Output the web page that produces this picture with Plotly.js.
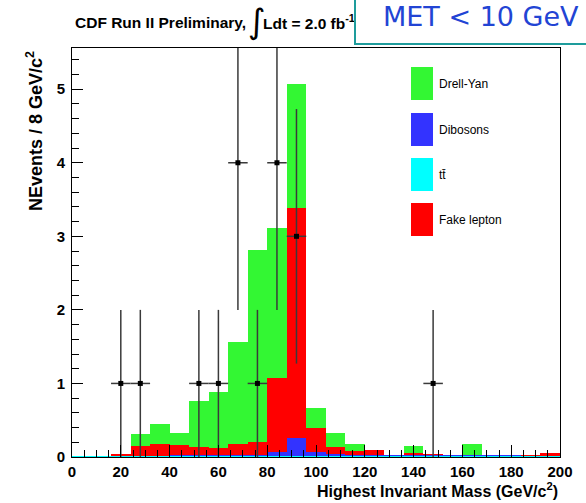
<!DOCTYPE html>
<html>
<head>
<meta charset="utf-8">
<script src="https://cdn.plot.ly/plotly-3.0.1.min.js"></script>
<style>
  html, body { margin: 0; padding: 0; background: #ffffff; }
  #chart { width: 586px; height: 503px; }
</style>
</head>
<body>
<div id="chart"></div>
<script>
// Highest invariant mass, 8 GeV/c^2 bins from 0 to 200
const binCenters = [4, 12, 20, 28, 36, 44, 52, 60, 68, 76, 84, 92, 100,
                    108, 116, 124, 132, 140, 148, 156, 164, 172, 180, 188, 196];
const binWidth = 8;

// Expected events per bin, stacked from the bottom up
const ttbar    = [0.01, 0.01, 0.01, 0.01, 0.01, 0.01, 0.012, 0.012, 0.012, 0.012, 0.012, 0.015, 0.012,
                  0.012, 0.01, 0.01, 0.01, 0.01, 0.01, 0.01, 0.01, 0.01, 0.01, 0.008, 0.008];
const dibosons = [0, 0, 0, 0.003, 0.005, 0.015, 0.013, 0.013, 0.013, 0.013, 0.058, 0.245, 0.056,
                  0.033, 0.02, 0.015, 0.015, 0.015, 0.015, 0.012, 0.015, 0.012, 0.012, 0.012, 0.012];
const fakeLepton = [0, 0, 0.035, 0.137, 0.155, 0.135, 0.105, 0.095, 0.145, 0.185, 1.005, 3.12, 0.327,
                    0.091, 0.05, 0.065, 0.005, 0.03, 0.02, 0.005, 0.005, 0.005, 0.005, 0.005, 0.03];
const drellYan = [0, 0, 0, 0.16, 0.285, 0.16, 0.63, 0.765, 1.395, 2.60, 2.035, 1.695, 0.275,
                  0.184, 0.10, 0, 0, 0.09, 0, 0, 0.15, 0, 0, 0, 0];

// Observed events (bin centre, count, Poisson error)
const dataMass   = [20, 28, 52, 60, 68, 76, 84, 92, 148];
const dataCounts = [1, 1, 1, 1, 4, 1, 4, 3, 1];
const dataErrors = [1, 1, 1, 1, 2, 1, 2, 1.73, 1];

const xTicks = [0, 20, 40, 60, 80, 100, 120, 140, 160, 180, 200];
const yTicks = [0, 1, 2, 3, 4, 5];

const legendLabels = ['Drell-Yan', 'Dibosons', 't\u0074\u0304', 'Fake lepton'];
const legendColors = ['#33f733', '#3333ff', '#00ffff', '#ff0000'];

const W = 586, H = 503;
const L = 72, R = 560, T = 48, B = 457;
const px = v => (v - L) / (R - L);
const py = v => (B - v) / (B - T);

const sans = 'Liberation Sans, Arial, Helvetica, sans-serif';

function stackTrace(name, values, color) {
  return {
    type: 'bar', name: name, x: binCenters, y: values, width: binWidth,
    marker: { color: color, line: { width: 0 } },
    hoverinfo: 'skip', showlegend: false
  };
}

const traces = [
  stackTrace('tt\u0304', ttbar, legendColors[2]),
  stackTrace('Dibosons', dibosons, legendColors[1]),
  stackTrace('Fake lepton', fakeLepton, legendColors[3]),
  stackTrace('Drell-Yan', drellYan, legendColors[0]),
  {
    type: 'scatter', mode: 'markers', name: 'Data',
    x: dataMass, y: dataCounts,
    marker: { symbol: 'square', size: 5, color: '#000000' },
    error_y: { type: 'data', array: dataErrors, visible: true, color: '#3a3a3a', thickness: 1.5, width: 0 },
    error_x: { type: 'constant', value: binWidth / 2, visible: true, color: '#3a3a3a', thickness: 1.5, width: 0 },
    cliponaxis: true, showlegend: false, hoverinfo: 'skip'
  }
];

const shapes = [];
const annotations = [];

// Legend boxes and labels
const legendTop = [67, 113, 158, 203];
legendLabels.forEach((lab, i) => {
  shapes.push({
    type: 'rect', xref: 'paper', yref: 'paper',
    x0: px(411), x1: px(433), y0: py(legendTop[i]), y1: py(legendTop[i] + 33),
    fillcolor: legendColors[i], line: { width: 0 }, layer: 'above'
  });
  annotations.push({
    xref: 'paper', yref: 'paper', x: px(437), y: py(legendTop[i] + 17),
    xanchor: 'left', yanchor: 'middle', showarrow: false, text: lab,
    font: { family: sans, size: 12, color: '#000000' }
  });
});

// Header
annotations.push({
  xref: 'paper', yref: 'paper', x: px(73), y: py(22), xanchor: 'left', yanchor: 'middle',
  showarrow: false, text: '<b>CDF Run II Preliminary,</b>',
  font: { family: sans, size: 15.5, color: '#000000' }
});
annotations.push({
  xref: 'paper', yref: 'paper', x: px(246), y: py(21), xanchor: 'left', yanchor: 'middle',
  showarrow: false, text: '\u222B',
  font: { family: 'DejaVu Sans, sans-serif', size: 34, color: '#000000' }
});
annotations.push({
  xref: 'paper', yref: 'paper', x: px(261), y: py(22), xanchor: 'left', yanchor: 'middle',
  showarrow: false, text: '<b>Ldt = 2.0 fb<sup>-1</sup></b>',
  font: { family: sans, size: 15.5, color: '#000000' }
});

// Selection label box
annotations.push({
  xref: 'paper', yref: 'paper', x: px(354), y: py(45), xanchor: 'left', yanchor: 'bottom',
  showarrow: false, text: ' ', width: 300, height: 70,
  bgcolor: '#ffffff', bordercolor: '#1e9c9c', borderwidth: 2, borderpad: 0
});
annotations.push({
  xref: 'paper', yref: 'paper', x: px(381), y: py(17), xanchor: 'left', yanchor: 'middle',
  showarrow: false, text: 'MET &lt; 10 GeV',
  font: { family: 'DejaVu Sans, sans-serif', size: 27, color: '#2244d4' }
});

// Axis titles
annotations.push({
  xref: 'paper', yref: 'paper', x: px(560), y: py(490), xanchor: 'right', yanchor: 'middle',
  showarrow: false, text: '<b>Highest Invariant Mass (GeV/c<sup>2</sup>)</b>',
  font: { family: sans, size: 16, color: '#000000' }
});
annotations.push({
  xref: 'paper', yref: 'paper', x: px(35), y: py(49), xanchor: 'center', yanchor: 'top',
  showarrow: false, textangle: -90, text: '<b>NEvents / 8 GeV/c<sup>2</sup></b>',
  font: { family: sans, size: 18, color: '#000000' }
});

const layout = {
  width: W, height: H,
  margin: { l: L, r: W - R, t: T, b: H - B, pad: 0 },
  paper_bgcolor: '#ffffff', plot_bgcolor: '#ffffff',
  barmode: 'stack', bargap: 0,
  showlegend: false,
  xaxis: {
    range: [0, 200], tickvals: xTicks, ticktext: xTicks.map(String),
    ticks: 'inside', ticklen: 12, tickwidth: 1, tickcolor: '#000000',
    minor: { dtick: 5, tick0: 0, ticks: 'inside', ticklen: 7, tickwidth: 1, tickcolor: '#000000', showgrid: false },
    showline: true, linecolor: '#000000', linewidth: 1, mirror: true,
    showgrid: false, zeroline: false,
    tickfont: { family: sans, size: 15, color: '#000000', weight: 'bold' },
    ticklabelstandoff: 1
  },
  yaxis: {
    range: [0, 5.56], tickvals: yTicks, ticktext: yTicks.map(String),
    ticks: 'inside', ticklen: 11, tickwidth: 1, tickcolor: '#000000',
    minor: { dtick: 0.2, tick0: 0, ticks: 'inside', ticklen: 7, tickwidth: 1, tickcolor: '#000000', showgrid: false },
    showline: true, linecolor: '#000000', linewidth: 1, mirror: true,
    showgrid: false, zeroline: false,
    tickfont: { family: sans, size: 15, color: '#000000', weight: 'bold' },
    ticklabelstandoff: 3
  },
  shapes: shapes,
  annotations: annotations
};

Plotly.newPlot('chart', traces, layout, { staticPlot: true, displayModeBar: false });
</script>
</body>
</html>
